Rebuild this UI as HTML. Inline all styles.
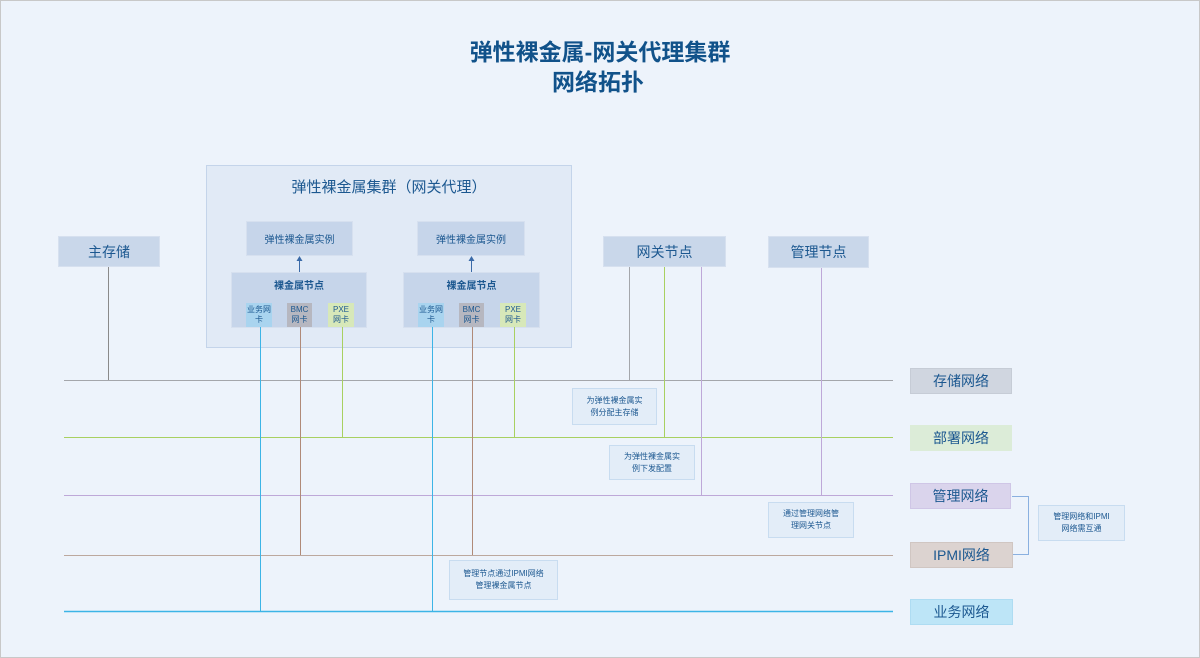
<!DOCTYPE html>
<html><head><meta charset="utf-8"><style>
body{margin:0;width:1200px;height:658px;overflow:hidden;background:#edf3fb;font-family:"Liberation Sans","Noto Sans CJK SC",sans-serif;}
.frame{position:absolute;left:0;top:0;width:1198px;height:656px;border:1px solid #c8c8c8;}
.b{position:absolute;box-sizing:border-box;display:flex;align-items:center;justify-content:center;text-align:center;color:#1c5890;}
.t{position:absolute;left:0;width:1200px;text-align:center;color:#11528a;font-weight:bold;font-size:23px;}
svg{position:absolute;left:0;top:0;}
</style></head><body>
<div class="frame"></div>
<div class="t" style="top:33px">弹性裸金属-网关代理集群</div>
<div class="t" style="top:63px;left:-2px">网络拓扑</div>

<div class="b" style="left:206px;top:165px;width:366px;height:183px;background:#e1eaf6;border:1px solid #c4d4ea;align-items:flex-start;padding-top:10px;font-size:15px">弹性裸金属集群（网关代理）</div>
<div class="b" style="left:246px;top:221px;width:107px;height:35px;background:#c6d5ea;border:1px solid #d6e0ef;font-size:10px">弹性裸金属实例</div>
<div class="b" style="left:417px;top:221px;width:108px;height:35px;background:#c6d5ea;border:1px solid #d6e0ef;font-size:10px">弹性裸金属实例</div>
<div class="b" style="left:231px;top:272px;width:136px;height:56px;background:#c6d5ea;border:1px solid #d6e0ef;align-items:flex-start;padding-top:4px;font-size:10px;font-weight:bold">裸金属节点</div>
<div class="b" style="left:403px;top:272px;width:137px;height:56px;background:#c6d5ea;border:1px solid #d6e0ef;align-items:flex-start;padding-top:4px;font-size:10px;font-weight:bold">裸金属节点</div>

<div class="b" style="left:246px;top:303px;width:26px;height:24px;background:#a9d4ef;font-size:8px;line-height:10px">业务网<br>卡</div>
<div class="b" style="left:287px;top:303px;width:25px;height:24px;background:#b6b7c0;font-size:8px;line-height:10px">BMC<br>网卡</div>
<div class="b" style="left:328px;top:303px;width:26px;height:24px;background:#d7e8b9;font-size:8px;line-height:10px">PXE<br>网卡</div>
<div class="b" style="left:418px;top:303px;width:26px;height:24px;background:#a9d4ef;font-size:8px;line-height:10px">业务网<br>卡</div>
<div class="b" style="left:459px;top:303px;width:25px;height:24px;background:#b6b7c0;font-size:8px;line-height:10px">BMC<br>网卡</div>
<div class="b" style="left:500px;top:303px;width:26px;height:24px;background:#d7e8b9;font-size:8px;line-height:10px">PXE<br>网卡</div>

<div class="b" style="left:58px;top:236px;width:102px;height:31px;background:#c9d7ea;border:1px solid #d6e0ef;font-size:14px">主存储</div>
<div class="b" style="left:603px;top:236px;width:123px;height:31px;background:#c9d7ea;border:1px solid #d6e0ef;font-size:14px">网关节点</div>
<div class="b" style="left:768px;top:236px;width:101px;height:32px;background:#c9d7ea;border:1px solid #d6e0ef;font-size:14px">管理节点</div>

<svg width="1200" height="658">
<g stroke-width="1">
<line x1="64" y1="380.5" x2="893" y2="380.5" stroke="#a4a6ab"/>
<line x1="64" y1="437.5" x2="893" y2="437.5" stroke="#a8d060"/>
<line x1="64" y1="495.5" x2="893" y2="495.5" stroke="#bea8d8"/>
<line x1="64" y1="555.5" x2="893" y2="555.5" stroke="#bca89e"/>
<line x1="64" y1="611.5" x2="893" y2="611.5" stroke="#3cb4e6" stroke-width="1.5"/>
<line x1="108.5" y1="267" x2="108.5" y2="380" stroke="#8a8a8a"/>
<line x1="260.5" y1="327" x2="260.5" y2="611" stroke="#3cb4e6"/>
<line x1="432.5" y1="327" x2="432.5" y2="611" stroke="#3cb4e6"/>
<line x1="300.5" y1="327" x2="300.5" y2="555" stroke="#b08a78"/>
<line x1="472.5" y1="327" x2="472.5" y2="555" stroke="#b08a78"/>
<line x1="342.5" y1="327" x2="342.5" y2="437" stroke="#a8d060"/>
<line x1="514.5" y1="327" x2="514.5" y2="437" stroke="#a8d060"/>
<line x1="629.5" y1="267" x2="629.5" y2="380" stroke="#a4a6ab"/>
<line x1="664.5" y1="267" x2="664.5" y2="437" stroke="#a8d060"/>
<line x1="701.5" y1="267" x2="701.5" y2="495" stroke="#bea8d8"/>
<line x1="821.5" y1="268" x2="821.5" y2="495" stroke="#bea8d8"/>
<line x1="299.5" y1="272" x2="299.5" y2="258" stroke="#3a6aa8"/>
<line x1="471.5" y1="272" x2="471.5" y2="258" stroke="#3a6aa8"/>
<polyline points="1012,496.5 1028.5,496.5 1028.5,554.5 1012,554.5" fill="none" stroke="#8ab0e0"/>
</g>
<path d="M296.5,261 L299.5,256 L302.5,261Z M468.5,261 L471.5,256 L474.5,261Z" fill="#3a6aa8"/>
</svg>

<div class="b" style="left:572px;top:388px;width:85px;height:37px;background:#e3edf8;border:1px solid #c8dcf0;font-size:8px;line-height:12px">为弹性裸金属实<br>例分配主存储</div>
<div class="b" style="left:609px;top:445px;width:86px;height:35px;background:#e3edf8;border:1px solid #c8dcf0;font-size:8px;line-height:12px">为弹性裸金属实<br>例下发配置</div>
<div class="b" style="left:768px;top:502px;width:86px;height:36px;background:#e3edf8;border:1px solid #c8dcf0;font-size:8px;line-height:12px">通过管理网络管<br>理网关节点</div>
<div class="b" style="left:449px;top:560px;width:109px;height:40px;background:#e3edf8;border:1px solid #c8dcf0;font-size:8px;line-height:12px">管理节点通过IPMI网络<br>管理裸金属节点</div>
<div class="b" style="left:1038px;top:505px;width:87px;height:36px;background:#e3edf8;border:1px solid #c8dcf0;font-size:8px;line-height:12px">管理网络和IPMI<br>网络需互通</div>

<div class="b" style="left:910px;top:368px;width:102px;height:26px;background:#d0d6e0;border:1px solid #c6ccd6;font-size:14px">存储网络</div>
<div class="b" style="left:910px;top:425px;width:102px;height:26px;background:#dcecd8;font-size:14px">部署网络</div>
<div class="b" style="left:910px;top:483px;width:101px;height:26px;background:#dad4ec;border:1px solid #cfc6e6;font-size:14px">管理网络</div>
<div class="b" style="left:910px;top:542px;width:103px;height:26px;background:#dcd3d0;border:1px solid #d0c6c2;font-size:14px">IPMI网络</div>
<div class="b" style="left:910px;top:599px;width:103px;height:26px;background:#bde5f7;border:1px solid #aedcf2;font-size:14px">业务网络</div>
</body></html>
